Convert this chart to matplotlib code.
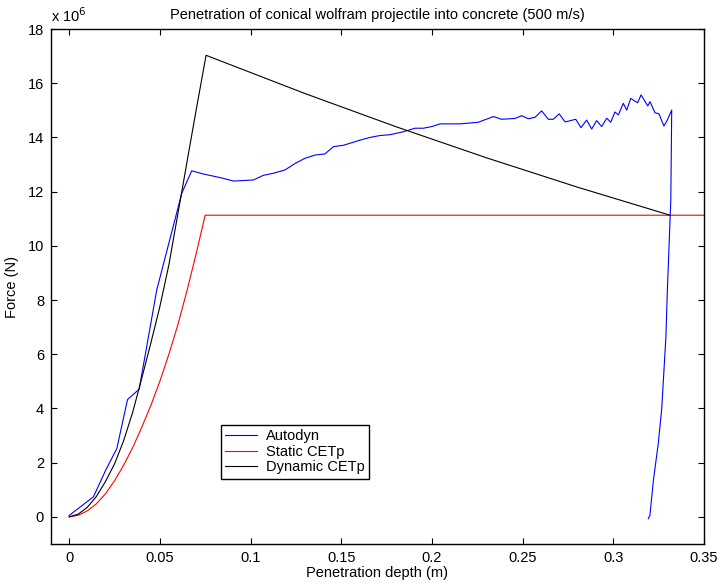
import matplotlib
matplotlib.use('Agg')
import matplotlib.pyplot as plt

plt.rcParams['font.family'] = ['Liberation Sans', 'DejaVu Sans']

# Autodyn simulation (force in 1e6 N)
autodyn_x = [0.0, 0.0134, 0.020, 0.0263, 0.0322, 0.0386, 0.0483, 0.0502, 0.0621, 0.0676,
             0.074, 0.079, 0.085, 0.0906, 0.1016, 0.107, 0.1127, 0.119, 0.1246, 0.130,
             0.1356, 0.141, 0.1457, 0.1512, 0.1604, 0.1659, 0.1714, 0.1769, 0.1843, 0.1907,
             0.1953, 0.1999, 0.2045, 0.2155, 0.2256, 0.2339, 0.2385, 0.2458, 0.2495, 0.2532,
             0.2568, 0.2605, 0.2642, 0.2669, 0.2702, 0.2734, 0.2793, 0.2822, 0.2853, 0.2881,
             0.2908, 0.2936, 0.2964, 0.2986, 0.3009, 0.3028, 0.3055, 0.3074, 0.3096, 0.3134,
             0.3153, 0.319, 0.3202, 0.323, 0.3252, 0.3279, 0.3298, 0.3322, 0.3317, 0.3298,
             0.329, 0.3267, 0.3248, 0.3221, 0.3202, 0.3193]
autodyn_f = [0.05, 0.74, 1.7, 2.52, 4.33, 4.71, 8.37, 8.86, 11.94, 12.77,
             12.65, 12.58, 12.49, 12.39, 12.43, 12.6, 12.68, 12.8, 13.04, 13.23,
             13.35, 13.39, 13.66, 13.71, 13.9, 14.0, 14.07, 14.1, 14.21, 14.34,
             14.34, 14.4, 14.5, 14.5, 14.56, 14.77, 14.67, 14.7, 14.8, 14.69,
             14.74, 14.98, 14.67, 14.67, 14.87, 14.57, 14.67, 14.36, 14.64, 14.31,
             14.62, 14.4, 14.71, 14.56, 14.94, 14.83, 15.26, 15.01, 15.44, 15.28,
             15.57, 15.16, 15.32, 14.91, 14.87, 14.42, 14.64, 15.01, 11.69, 8.37,
             6.64, 4.0, 2.71, 1.35, 0.06, -0.07]

# Static CETp
static_x = [0.0, 0.005, 0.01, 0.015, 0.02, 0.025, 0.03, 0.035, 0.04, 0.045, 0.05,
            0.055, 0.06, 0.065, 0.07, 0.075, 0.35]
static_f = [0.0, 0.06, 0.22, 0.48, 0.85, 1.33, 1.9, 2.55, 3.3, 4.1, 5.0,
            6.0, 7.1, 8.35, 9.7, 11.13, 11.13]

# Dynamic CETp
dynamic_x = [0.0, 0.005, 0.01, 0.015, 0.02, 0.025, 0.03, 0.035, 0.04, 0.045, 0.05,
             0.055, 0.06, 0.065, 0.07, 0.0755, 0.13, 0.18, 0.23, 0.28, 0.3313]
dynamic_f = [0.0, 0.1, 0.35, 0.75, 1.3, 1.95, 2.8, 3.85, 5.1, 6.4, 7.75,
             9.3, 11.2, 13.1, 15.0, 17.03, 15.62, 14.4, 13.25, 12.17, 11.13]

fig = plt.figure(figsize=(7.18, 5.85), dpi=100)
ax = fig.add_axes([0.071, 0.0701, 0.9095, 0.8803])

ax.plot(autodyn_x, autodyn_f, color='blue', lw=0.8, label='Autodyn')
ax.plot(static_x, static_f, color='red', lw=0.8, label='Static CETp')
ax.plot(dynamic_x, dynamic_f, color='black', lw=0.8, label='Dynamic CETp')

ax.set_xlim(-0.01, 0.35)
ax.set_ylim(-1, 18)
ax.set_xticks([0, 0.05, 0.1, 0.15, 0.2, 0.25, 0.3, 0.35])
ax.set_xticklabels(['0', '0.05', '0.1', '0.15', '0.2', '0.25', '0.3', '0.35'])
ax.set_yticks(range(0, 19, 2))
ax.tick_params(direction='in', top=True, right=True, length=4, width=0.8,
               labelsize=10.5, pad=5)
for s in ax.spines.values():
    s.set_linewidth(1.0)

ax.set_title('Penetration of conical wolfram projectile into concrete (500 m/s)',
             fontsize=10.5, pad=7)
ax.set_xlabel('Penetration depth (m)', fontsize=10.5, labelpad=1)
ax.set_ylabel('Force (N)', fontsize=10.5, labelpad=6)
ax.text(0.0, 1.008, 'x 10$^6$', transform=ax.transAxes, fontsize=10.5, va='bottom', ha='left')

leg = ax.legend(loc='upper left', bbox_to_anchor=(0.26, 0.231), fontsize=10.5,
                fancybox=False, edgecolor='black', framealpha=1, borderaxespad=0,
                handlelength=2.2, borderpad=0.3, labelspacing=0.1, handletextpad=0.6)
leg.get_frame().set_linewidth(1.0)

fig.savefig('out.png', dpi=100)
